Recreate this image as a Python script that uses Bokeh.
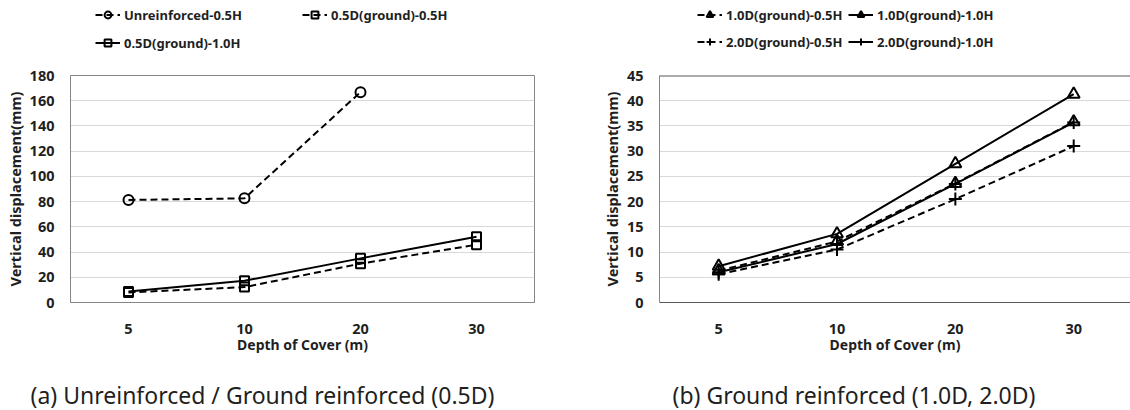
from bokeh.plotting import figure
from bokeh.models import Range1d, FixedTicker, Legend, LegendItem, Label, Span
from bokeh.layouts import row, column
from bokeh.embed import file_html
from bokeh.resources import INLINE

# ---------------- data ----------------
depths = ["5", "10", "20", "30"]
left_yticks = [0, 20, 40, 60, 80, 100, 120, 140, 160, 180]
right_yticks = [0, 5, 10, 15, 20, 25, 30, 35, 40, 45]

unreinforced_05H = [81.3, 82.6, 166.8]          # only 5, 10, 20 m
ground05D_05H = [8.0, 12.2, 30.8, 45.8]
ground05D_10H = [8.8, 17.2, 35.0, 52.2]

ground10D_05H = [6.3, 12.1, 23.6, 35.8]
ground10D_10H = [7.2, 13.6, 27.5, 41.3]
ground20D_05H = [5.6, 10.5, 20.5, 31.0]
ground20D_10H = [6.0, 11.6, 23.5, 35.7]

caption_a = "(a) Unreinforced / Ground reinforced (0.5D)"
caption_b = "(b) Ground reinforced (1.0D, 2.0D)"
x_title = "Depth of Cover (m)"
y_title = "Vertical displacement(mm)"

idx = list(range(len(depths)))

FONT = "Noto Sans"
DASH = "7 4"
TXT = "#1f1f1f"
COLW = 565
LEG_H = 56
CHART_H = 316
CAP_H = 38


def chart(border_left, border_right, border_top, x_end, y_end, yticks):
    p = figure(width=COLW, height=CHART_H, output_backend="svg", toolbar_location=None,
               x_range=Range1d(-0.5, x_end), y_range=Range1d(0, y_end),
               min_border_left=border_left, min_border_right=border_right,
               min_border_top=border_top, min_border_bottom=70,
               background_fill_color="white", border_fill_color="white")
    p.xaxis.ticker = FixedTicker(ticks=idx)
    p.xaxis.major_label_overrides = {i: d for i, d in enumerate(depths)}
    p.yaxis.ticker = FixedTicker(ticks=yticks)
    p.xgrid.visible = False
    p.ygrid.grid_line_color = "#d9d9d9"
    p.ygrid.grid_line_width = 1
    for ax in (p.xaxis[0], p.yaxis[0]):
        ax.major_tick_line_color = None
        ax.minor_tick_line_color = None
        ax.major_tick_out = 0
        ax.major_tick_in = 0
        ax.major_label_text_font = FONT
        ax.major_label_text_font_style = "bold"
        ax.major_label_text_font_size = "14.5px"
        ax.major_label_text_color = TXT
        ax.axis_label_text_font = FONT
        ax.axis_label_text_font_style = "bold"
        ax.axis_label_text_color = TXT
    p.xaxis.axis_label = x_title
    p.xaxis.axis_label_text_font_size = "14px"
    p.xaxis.major_label_standoff = 21
    p.xaxis.axis_label_standoff = -2
    p.yaxis.axis_label = y_title
    p.yaxis.axis_label_text_font_size = "14.5px"
    p.yaxis.major_label_standoff = 16
    p.yaxis.axis_label_standoff = 2
    return p


def series(p, xs, ys, marker, dashed, size):
    l = p.line(xs, ys, line_color="black", line_width=2,
               line_dash=DASH if dashed else "solid")
    s = p.scatter(xs, ys, marker=marker, size=size, fill_color=None,
                  line_color="black", line_width=2)
    return [l, s]


def blank_fig(width, height, yr=(0, 1)):
    f = figure(width=width, height=height, output_backend="svg", toolbar_location=None,
               x_range=Range1d(0, 1), y_range=Range1d(*yr),
               x_axis_type=None, y_axis_type=None,
               min_border_left=0, min_border_right=0, min_border_top=0, min_border_bottom=0,
               outline_line_color=None, background_fill_color="white",
               border_fill_color="white")
    f.grid.visible = False
    return f


# ---------------- left chart ----------------
pl = chart(70, 31, 75 - LEG_H, 3.5, 180, left_yticks)
pl.outline_line_color = "#868686"
pl.xaxis.axis_line_color = "#868686"
pl.yaxis.axis_line_color = "#868686"

series(pl, idx[:len(unreinforced_05H)], unreinforced_05H, "circle", True, 10)
series(pl, idx, ground05D_05H, "square", True, 9)
series(pl, idx, ground05D_10H, "square", False, 9)

# ---------------- right chart ----------------
pr = chart(94, 0, 69 - LEG_H, 3.48, 45, right_yticks)
pr.outline_line_color = None
pr.xaxis.axis_line_color = "#595959"
pr.yaxis.axis_line_color = "#868686"
pr.add_layout(Span(location=right_yticks[-1], dimension="width",
                   line_color="#595959", line_width=2))

series(pr, idx, ground10D_05H, "triangle", True, 12)
series(pr, idx, ground10D_10H, "triangle", False, 12)
series(pr, idx, ground20D_05H, "cross", True, 13)
series(pr, idx, ground20D_10H, "cross", False, 13)

# ---------------- legend strip (keys drawn from the same series, kept out of view) ----------------
leg = blank_fig(2 * COLW, LEG_H, yr=(-2, -1))
legend_specs = [
    ("Unreinforced-0.5H", unreinforced_05H, "circle", True, 10, 95, 32.5),
    ("0.5D(ground)-0.5H", ground05D_05H, "square", True, 9, 302, 32.5),
    ("0.5D(ground)-1.0H", ground05D_10H, "square", False, 9, 95, 4.5),
    ("1.0D(ground)-0.5H", ground10D_05H, "triangle", True, 11, 697, 32.5),
    ("1.0D(ground)-1.0H", ground10D_10H, "triangle", False, 11, 848, 32.5),
    ("2.0D(ground)-0.5H", ground20D_05H, "cross", True, 13, 697, 5.5),
    ("2.0D(ground)-1.0H", ground20D_10H, "cross", False, 13, 848, 5.5),
]
for label, vals, marker, dashed, size, lx, ly in legend_specs:
    rends = series(leg, idx[:len(vals)], vals, marker, dashed, size)
    leg.add_layout(Legend(items=[LegendItem(label=label, renderers=rends)],
                          location=(lx, ly), orientation="horizontal",
                          padding=0, margin=0, spacing=0,
                          glyph_width=25, glyph_height=17, label_height=17,
                          label_standoff=4,
                          label_text_font=FONT, label_text_font_style="bold",
                          label_text_font_size="13px", label_text_color=TXT,
                          border_line_color=None, background_fill_alpha=0), "center")

# ---------------- captions ----------------
cap = blank_fig(2 * COLW, CAP_H)
for text, x0 in ((caption_a, 30), (caption_b, 672)):
    cap.add_layout(Label(x=x0, y=16, x_units="screen", y_units="screen", text=text,
                         text_align="left", text_baseline="middle",
                         text_font=FONT, text_font_size="23px", text_color=TXT))

layout = column(leg, row(pl, pr, spacing=0), cap, spacing=0)
open("out.html", "w").write(file_html(layout, INLINE))
